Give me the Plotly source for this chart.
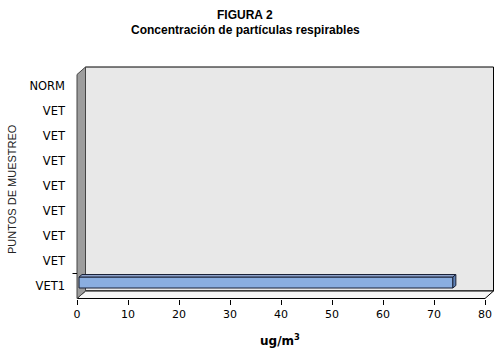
import plotly.graph_objects as go

# ---- data ----
categories = ["VET1", "VET", "VET", "VET", "VET", "VET", "VET", "VET", "NORM"]
values = [73.7, None, None, None, None, None, None, None, None]
x_ticks = [0, 10, 20, 30, 40, 50, 60, 70, 80]
title_1 = "FIGURA 2"
title_2 = "Concentración de partículas respirables"
x_title = "ug/m<sup>3</sup>"
y_title = "PUNTOS DE MUESTREO"

# ---- layout geometry ----
W, H = 501, 356
L, R, T, B = 70, 6, 66, 57
X0PX = 77.0          # pixel of value 0
SX = 5.1             # px per value unit
Y0PX = 298.5         # pixel of y = -0.5 (front floor edge)
SY = 25.0            # px per category
xr = [(L - X0PX) / SX, (W - R - X0PX) / SX]
yr = [-0.5 - ((H - B) - Y0PX) / SY, -0.5 + (Y0PX - T) / SY]

DX = 8.5 / SX        # wall depth
DY = 7.5 / SY
XMAX = x_ticks[-1]
YBOT = -0.5
YTOP = -0.5 + (Y0PX - 67) / SY

shapes = []
# back wall
shapes.append(dict(type="path", layer="below", xref="x", yref="y",
                   path=f"M{DX},{YBOT+DY} L{XMAX+DX},{YBOT+DY} L{XMAX+DX},{YTOP} L{DX},{YTOP} Z",
                   fillcolor="#e8e8e8", line=dict(color="#000000", width=1)))
# floor
shapes.append(dict(type="path", layer="below", xref="x", yref="y",
                   path=f"M0,{YBOT} L{XMAX},{YBOT} L{XMAX+DX},{YBOT+DY} L{DX},{YBOT+DY} Z",
                   fillcolor="#f7f7f7", line=dict(color="#000000", width=1)))
# left wall
shapes.append(dict(type="path", layer="below", xref="x", yref="y",
                   path=f"M0,{YBOT} L{DX},{YBOT+DY} L{DX},{YTOP} L0,{YTOP-DY} Z",
                   fillcolor="#9d9d9d", line=dict(color="#444444", width=1)))
# category tick mark (between first and second category)
shapes.append(dict(type="line", layer="above", xref="x", yref="y",
                   x0=-4.5 / SX, x1=0, y0=0.5, y1=0.5,
                   line=dict(color="#000000", width=1)))

# bar 3D faces
BASE = 0.4
BW = 0.44
BOFF = -0.08
BDX = 3.0 / SX
BDY = 2.5 / SY
for i, v in enumerate(values):
    if v is None:
        continue
    y_lo = i + BOFF
    y_hi = i + BOFF + BW
    shapes.append(dict(type="path", layer="above", xref="x", yref="y",
                       path=f"M{BASE},{y_hi} L{v},{y_hi} L{v+BDX},{y_hi+BDY} L{BASE+BDX},{y_hi+BDY} Z",
                       fillcolor="#8ea3cc", line=dict(color="#1a2238", width=1)))
    shapes.append(dict(type="path", layer="above", xref="x", yref="y",
                       path=f"M{v},{y_lo} L{v},{y_hi} L{v+BDX},{y_hi+BDY} L{v+BDX},{y_lo+BDY} Z",
                       fillcolor="#5d80b6", line=dict(color="#1a2238", width=1)))

fig = go.Figure()
fig.add_trace(go.Bar(
    orientation="h",
    y=list(range(len(categories))),
    x=[(v - BASE) if v is not None else None for v in values],
    base=BASE,
    width=BW,
    offset=BOFF,
    marker=dict(color="#8aaee0", line=dict(color="#1a2238", width=1)),
    showlegend=False,
    hoverinfo="skip",
))

fig.update_layout(
    width=W, height=H,
    margin=dict(l=L, r=R, t=T, b=B, pad=0),
    paper_bgcolor="#ffffff",
    plot_bgcolor="rgba(0,0,0,0)",
    showlegend=False,
    shapes=shapes,
    xaxis=dict(range=xr, tickvals=x_ticks, ticktext=[str(t) for t in x_ticks],
               ticks="outside", ticklen=5, tickcolor="#000000", tickwidth=1,
               showgrid=False, zeroline=False, showline=False,
               tickfont=dict(family="DejaVu Sans", size=11, color="#000000")),
    yaxis=dict(range=yr, tickvals=list(range(len(categories))), ticktext=categories,
               ticks="", showgrid=False, zeroline=False, showline=False,
               ticklabelstandoff=4,
               tickfont=dict(family="DejaVu Sans", size=11.5, color="#000000")),
    annotations=[
        dict(text=f"<b>{title_1}</b>", x=245, y=H - 15.5, xref="paper", yref="paper",
             showarrow=False, font=dict(family="Liberation Sans", size=12, color="#000000")),
        dict(text=f"<b>{title_2}</b>", x=245, y=H - 29.5, xref="paper", yref="paper",
             showarrow=False, font=dict(family="Liberation Sans", size=12, color="#000000")),
        dict(text=f"<b>{x_title}</b>", x=280, y=H - 340, xref="paper", yref="paper",
             showarrow=False, font=dict(family="DejaVu Sans", size=12, color="#000000")),
        dict(text=y_title, x=12, y=H - 189, xref="paper", yref="paper", textangle=-90,
             showarrow=False, font=dict(family="Liberation Sans", size=11, color="#222222")),
    ],
)

# convert annotation pixel positions to paper fractions
pw = W - L - R
ph = H - T - B
new_ann = []
for a in fig.layout.annotations:
    a = a.to_plotly_json()
    a["x"] = (a["x"] - L) / pw
    a["y"] = (a["y"] - B) / ph
    a["xanchor"] = "center"
    a["yanchor"] = "middle"
    new_ann.append(a)
fig.update_layout(annotations=new_ann)

fig.write_html("out.html", config={"displayModeBar": False},
               post_script="document.body.style.margin='0';document.body.style.padding='0';")
